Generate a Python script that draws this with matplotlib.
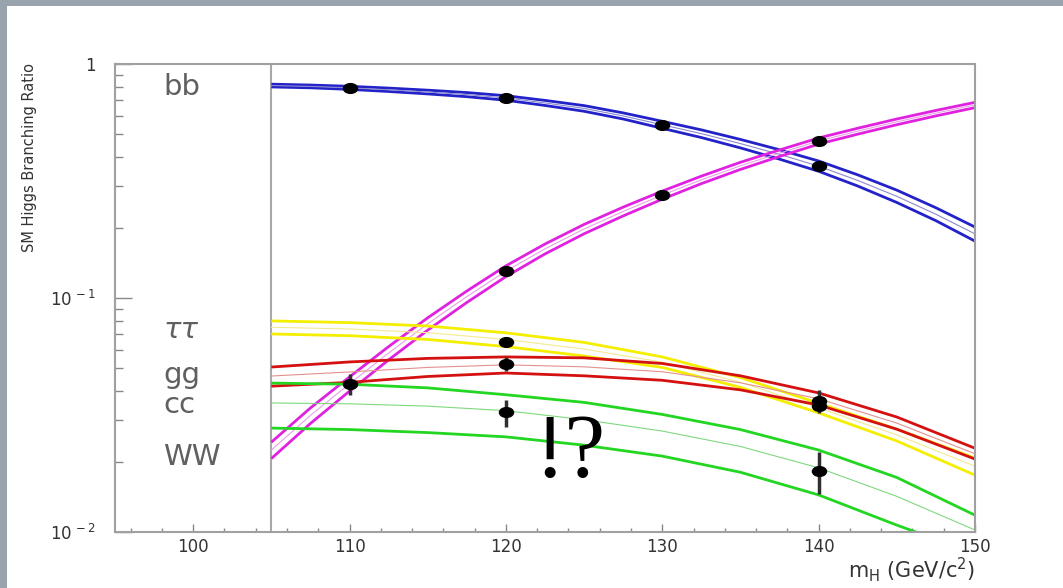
import numpy as np
import matplotlib
matplotlib.use("Agg")
from matplotlib import pyplot as plt
from matplotlib.markers import MarkerStyle
from matplotlib.transforms import Affine2D
from matplotlib.patches import Rectangle
from matplotlib.ticker import FixedLocator, MultipleLocator, LogLocator, NullFormatter

# Higgs mass grids (GeV/c^2)
masses_fine = [105, 107.5, 110, 112.5, 115, 117.5, 120, 122.5, 125, 127.5,
               130, 132.5, 135, 137.5, 140, 142.5, 145, 147.5, 150]
masses = [105, 110, 115, 120, 125, 130, 135, 140, 145, 150]

# branching ratio bands: upper edge, centre, lower edge
bb_hi = [0.82, 0.813, 0.803, 0.789, 0.773, 0.755, 0.732, 0.699, 0.664, 0.618,
         0.569, 0.523, 0.476, 0.430, 0.385, 0.336, 0.289, 0.243, 0.201]
bb_mid = [0.809, 0.802, 0.791, 0.776, 0.759, 0.740, 0.716, 0.682, 0.646, 0.600,
          0.550, 0.504, 0.457, 0.411, 0.366, 0.318, 0.272, 0.228, 0.188]
bb_lo = [0.798, 0.791, 0.779, 0.763, 0.745, 0.725, 0.700, 0.665, 0.628, 0.582,
         0.531, 0.485, 0.438, 0.392, 0.348, 0.301, 0.256, 0.214, 0.175]

ww_hi = [0.0242, 0.0339, 0.0460, 0.0620, 0.0823, 0.1071, 0.1372, 0.1701, 0.2063, 0.2445,
         0.2864, 0.3317, 0.3802, 0.4292, 0.4829, 0.5314, 0.5821, 0.6332, 0.6857]
ww_mid = [0.0224, 0.0315, 0.0430, 0.0582, 0.0776, 0.1014, 0.1303, 0.1622, 0.1972, 0.2344,
          0.2754, 0.3199, 0.3673, 0.4159, 0.4688, 0.5164, 0.5662, 0.6166, 0.6683]
ww_lo = [0.0206, 0.0291, 0.0400, 0.0544, 0.0729, 0.0957, 0.1234, 0.1543, 0.1881, 0.2243,
         0.2644, 0.3081, 0.3544, 0.4026, 0.4547, 0.5014, 0.5503, 0.6000, 0.6509]

tau_hi = [0.0798, 0.0785, 0.0759, 0.071, 0.0646, 0.056, 0.0457, 0.0355, 0.0275, 0.0207]
tau_mid = [0.075, 0.0737, 0.0711, 0.0665, 0.0605, 0.0532, 0.0436, 0.0339, 0.026, 0.0191]
tau_lo = [0.0702, 0.069, 0.0665, 0.062, 0.0565, 0.0505, 0.0415, 0.0323, 0.0245, 0.0175]

gg_hi = [0.0507, 0.0533, 0.0552, 0.056, 0.0555, 0.0525, 0.0465, 0.0393, 0.031, 0.0228]
gg_mid = [0.0464, 0.0483, 0.0505, 0.0518, 0.0508, 0.0484, 0.0434, 0.0371, 0.0292, 0.0216]
gg_lo = [0.042, 0.0436, 0.0462, 0.0478, 0.0465, 0.0445, 0.0405, 0.0349, 0.0275, 0.0205]

cc_hi = [0.0433, 0.0428, 0.0413, 0.0386, 0.0358, 0.0318, 0.0274, 0.0224, 0.0171, 0.0118]
cc_mid = [0.0356, 0.0353, 0.0345, 0.033, 0.0302, 0.027, 0.0232, 0.0188, 0.0142, 0.0102]
cc_lo = [0.0278, 0.0274, 0.0266, 0.0255, 0.0235, 0.0211, 0.018, 0.0144, 0.0107, 0.0081]

# measured points: mass, value, lower bar, upper bar
bb_pts_x = [110, 120, 130, 140]
bb_pts_y = [0.79, 0.716, 0.55, 0.367]
ww_pts_x = [110, 120, 130, 140]
ww_pts_y = [0.043, 0.130, 0.276, 0.469]
ww_pts_lo = [0.0384, 0.128, 0.272, 0.464]
ww_pts_hi = [0.0472, 0.132, 0.280, 0.474]
tau_pts_x = [120, 140]
tau_pts_y = [0.065, 0.0362]
tau_pts_lo = [0.0617, 0.034]
tau_pts_hi = [0.0683, 0.0405]
gg_pts_x = [120, 140]
gg_pts_y = [0.052, 0.0345]
gg_pts_lo = [0.0487, 0.0322]
gg_pts_hi = [0.056, 0.037]
cc_pts_x = [120, 140]
cc_pts_y = [0.0326, 0.0182]
cc_pts_lo = [0.0281, 0.0145]
cc_pts_hi = [0.0366, 0.0219]

channel_labels = ["bb", "ττ", "gg", "cc", "WW"]
label_y = [0.80, 0.073, 0.047, 0.035, 0.021]


def draw_band(ax, xs, hi, mid, lo, color, centre_color):
    ax.plot(xs, hi, color=color, lw=2.0, solid_capstyle="butt", solid_joinstyle="round")
    ax.plot(xs, lo, color=color, lw=2.0, solid_capstyle="butt", solid_joinstyle="round")
    ax.plot(xs, mid, color=centre_color, lw=0.8)


def draw_points(ax, xs, ys, lo=None, hi=None):
    if lo is not None:
        ax.vlines(xs, lo, hi, color="#303030", lw=2.5, zorder=5)
    ell = MarkerStyle("o", transform=Affine2D().scale(1.45, 1.0))
    ax.plot(xs, ys, ls="none", marker=ell, ms=7, color="black", zorder=6)


fig = plt.figure(figsize=(10.63, 5.88), dpi=100)
fig.patch.set_facecolor("#98a3ad")
fig.patches.append(Rectangle((7 / 1063, 0), 1, 1 - 6 / 588, transform=fig.transFigure,
                             facecolor="white", edgecolor="none", zorder=-5))

ax = fig.add_axes([115 / 1063, 1 - 532 / 588, 860 / 1063, 468 / 588])
ax.set_zorder(2)
ax.set_yscale("log")
ax.set_xlim(95, 150)
ax.set_ylim(0.01, 1)

draw_band(ax, masses_fine, bb_hi, bb_mid, bb_lo, "#2222c8", "#8a8ad0")
draw_band(ax, masses_fine, ww_hi, ww_mid, ww_lo, "#e022e0", "#e8a0e8")
draw_band(ax, masses, tau_hi, tau_mid, tau_lo, "#f4ee00", "#f2ea90")
draw_band(ax, masses, gg_hi, gg_mid, gg_lo, "#d41010", "#e49090")
draw_band(ax, masses, cc_hi, cc_mid, cc_lo, "#22d622", "#80d880")

draw_points(ax, bb_pts_x, bb_pts_y)
draw_points(ax, ww_pts_x, ww_pts_y, ww_pts_lo, ww_pts_hi)
draw_points(ax, tau_pts_x, tau_pts_y, tau_pts_lo, tau_pts_hi)
draw_points(ax, gg_pts_x, gg_pts_y, gg_pts_lo, gg_pts_hi)
draw_points(ax, cc_pts_x, cc_pts_y, cc_pts_lo, cc_pts_hi)

ax.axvline(105, color="#a8a8a8", lw=1.5, zorder=1)

for name, yy in zip(channel_labels, label_y):
    style = "italic" if name == "ττ" else "normal"
    ax.text(98.1, yy, name, fontsize=21, color="#606060", va="center", ha="left",
            style=style, family="DejaVu Sans")

ax.text(124.1, 0.0213, "!?", fontsize=66, family="Liberation Serif",
        ha="center", va="center", color="black")

# ROOT-like frame and ticks
for side in ax.spines.values():
    side.set_color("#a0a0a0")
    side.set_linewidth(1.5)
ax.xaxis.set_major_locator(FixedLocator([100, 110, 120, 130, 140, 150]))
ax.xaxis.set_minor_locator(MultipleLocator(2))
ax.yaxis.set_major_locator(FixedLocator([0.01, 0.1, 1]))
ax.yaxis.set_minor_locator(LogLocator(subs=np.arange(2, 10)))
ax.yaxis.set_minor_formatter(NullFormatter())
ax.set_yticklabels([r"$10^{\,-2}$", r"$10^{\,-1}$", "1"])
ax.tick_params(axis="x", which="major", direction="in", length=6, width=1, color="#888888",
               labelsize=12, labelcolor="#333333", pad=4)
ax.tick_params(axis="x", which="minor", direction="in", length=3, width=1, color="#888888")
ax.tick_params(axis="y", which="major", direction="in", length=12, width=1, color="#888888",
               labelsize=12, labelcolor="#333333", pad=14)
ax.tick_params(axis="y", which="minor", direction="in", length=6, width=1, color="#888888")

fig.text(30 / 1063, 1 - 158 / 588, "SM Higgs Branching Ratio", rotation=90,
         ha="center", va="center", fontsize=10.5, color="#333333", family="DejaVu Sans")
fig.text(975 / 1063, 1 - 578 / 588, r"m$_{\mathregular{H}}$ (GeV/c$^{\mathregular{2}}$)",
         ha="right", va="baseline", fontsize=15, color="#333333")

fig.savefig("out.png", dpi=100, facecolor=fig.get_facecolor())
